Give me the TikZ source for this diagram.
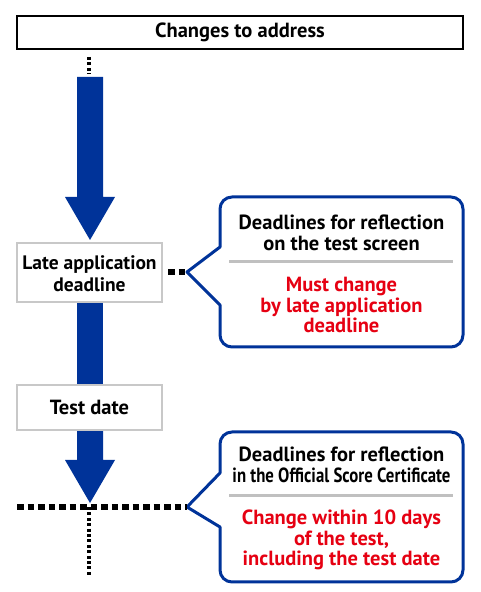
\documentclass[tikz,border=0pt]{standalone}
\usepackage{fontspec}
\setmainfont{PT Sans}
\usepackage{graphicx}
\definecolor{navy}{RGB}{0,51,153}
\definecolor{redtxt}{RGB}{230,0,18}
\definecolor{boxgrey}{RGB}{200,200,200}
\definecolor{sepgrey}{RGB}{192,192,192}
\begin{document}
\begin{tikzpicture}[x=1pt,y=1pt,
  txt/.style={font=\fontsize{20.5}{20.8}\selectfont\bfseries, align=center, inner sep=0pt},
  redt/.style={txt, text=redtxt},
  greybox/.style={draw=boxgrey, line width=2.5pt, fill=white},
  callout/.style={draw=navy, line width=3pt, fill=white, line join=round},
  shaft/.style={fill=navy},
  sepline/.style={draw=sepgrey, line width=3pt},
  bigdots/.style={line width=6pt, dash pattern=on 6.5pt off 4pt},
  smalldots/.style={line width=3.5pt, dash pattern=on 3pt off 2.4pt}]
\useasboundingbox (0,0) rectangle (480,592);
% top box
\draw[line width=1.3pt] (17,543) rectangle (463,576);
\node[txt] (top) at (240,559.5) {Changes to address};
% small dotted at top
\coordinate (d1a) at (89,535);
\coordinate (d1b) at (89,518);
\draw[smalldots] (d1a) -- (d1b);
% shaft 1 with head
\fill[shaft] (77,515) -- (103,515) -- (103,395) -- (115,395) -- (90,352) -- (65,395) -- (77,395) -- cycle;
% shaft 2
\fill[shaft] (77,292) rectangle (103,205);
% shaft 3 with head
\fill[shaft] (77,164) -- (103,164) -- (103,132) -- (115,132) -- (90,89) -- (65,132) -- (77,132) -- cycle;
% late box
\draw[greybox] (17,290) rectangle (162,349);
\node[txt, font=\fontsize{19.5}{21.5}\selectfont\bfseries] (late) at (89.5,318.5) {Late application\\deadline};
% test box
\draw[greybox] (17,162) rectangle (162,207);
\node[txt] (test) at (89.5,184.5) {Test date};
% callout 1
\coordinate (tip1) at (187,320);
\draw[callout] (220,345) -- (220,383) arc[start angle=180,end angle=90,radius=12] -- (451,395)
  arc[start angle=90,end angle=0,radius=12] -- (463,257) arc[start angle=0,end angle=-90,radius=12]
  -- (232,245) arc[start angle=270,end angle=180,radius=12] -- (220,287) -- (tip1) -- cycle;
\node[txt] (c1a) at (341.5,359.5) {Deadlines for reflection\\on the test screen};
\draw[sepline] (229,330) -- (453,330);
\node[redt] (c1b) at (341.5,287) {Must change\\by late application\\deadline};
% dots between late box and callout
\coordinate (lr) at (168,320);
\draw[bigdots] (lr) -- (tip1);
% callout 2
\coordinate (tip2) at (187,85);
\draw[callout] (220,119) -- (220,148) arc[start angle=180,end angle=90,radius=12] -- (451,160)
  arc[start angle=90,end angle=0,radius=12] -- (463,22) arc[start angle=0,end angle=-90,radius=12]
  -- (232,10) arc[start angle=270,end angle=180,radius=12] -- (220,65) -- (tip2) -- cycle;
\node[txt] (c2a) at (341.5,127) {Deadlines for reflection\\\scalebox{0.82}[1]{in the Official Score Certificate}};
\draw[sepline] (229,96) -- (453,96);
\node[redt] (c2b) at (341.5,52) {Change within 10 days\\of the test,\\including the test date};
% dotted lines at bottom
\coordinate (hl) at (17,85);
\coordinate (vb) at (89,85);
\coordinate (ve) at (89,17);
\draw[bigdots] (hl) -- (tip2);
\draw[smalldots] (vb) -- (ve);
\end{tikzpicture}
\end{document}
